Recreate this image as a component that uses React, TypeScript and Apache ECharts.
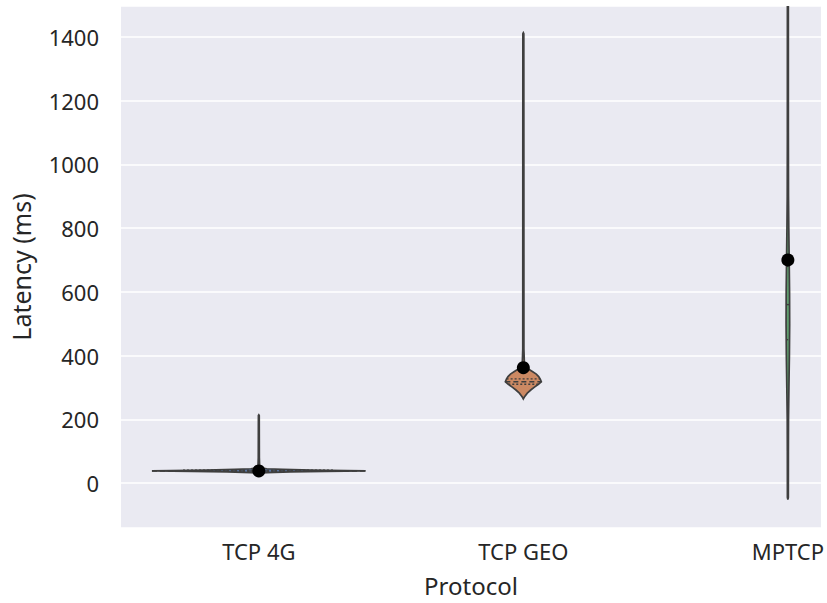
import React, { useEffect, useRef } from "react";
import * as echarts from "echarts";

const categories = ["TCP 4G", "TCP GEO", "MPTCP"];
const means = [38, 362, 700];
const fillColors = ["#5975A4", "#CC8963", "#5F9E6E"];

// violin profiles: [latency (ms), half width in category units]
const profile4G: [number, number][] = [
  [31, 0], [33, 0.03], [35, 0.12], [36.5, 0.25], [38, 0.404], [39.5, 0.33],
  [41, 0.2], [43, 0.09], [45, 0.03], [48, 0.008], [55, 0.003], [80, 0.002],
  [150, 0.0018], [212, 0.0016], [214, 0],
];
const profileGEO: [number, number][] = [
  [264, 0], [270, 0.004], [282, 0.015], [292, 0.028], [301, 0.042], [310, 0.057],
  [318, 0.068], [326, 0.064], [334, 0.058], [342, 0.049], [350, 0.034],
  [358, 0.019], [366, 0.008], [375, 0.004], [420, 0.0022], [1000, 0.002],
  [1410, 0.0018], [1413, 0],
];
const profileMPTCP: [number, number][] = [
  [-52, 0], [-45, 0.0018], [100, 0.002], [200, 0.0024], [300, 0.004],
  [400, 0.0058], [500, 0.0068], [600, 0.0064], [700, 0.005], [800, 0.0035],
  [900, 0.0024], [1100, 0.0019], [1650, 0.0018],
];
const profiles = [profile4G, profileGEO, profileMPTCP];
const quartiles = [
  [37, 38, 40],
  [310, 318, 327],
  [450, 560, 680],
];

const yTicks = [0, 200, 400, 600, 800, 1000, 1200, 1400];
const edgeColor = "#3f3f3f";
const textColor = "#262626";
const fontFamily = "'Noto Sans', 'Open Sans', sans-serif";

function widthAt(prof: [number, number][], v: number): number {
  for (let i = 0; i < prof.length - 1; i++) {
    const [a, wa] = prof[i];
    const [b, wb] = prof[i + 1];
    if (v >= a && v <= b) return wa + ((wb - wa) * (v - a)) / (b - a);
  }
  return 0;
}

export default function App() {
  const ref = useRef<HTMLDivElement>(null);
  useEffect(() => {
    document.body.style.margin = "0";
    const chart = echarts.init(ref.current!, null, { renderer: "svg" });
    chart.setOption({
      animation: false,
      backgroundColor: "#ffffff",
      grid: { left: 121, top: 6, width: 701, height: 522, backgroundColor: "#EAEAF2", show: true, borderWidth: 0 },
      xAxis: {
        type: "value",
        min: -0.521,
        max: 2.125,
        splitNumber: 3,
        name: "Protocol",
        nameLocation: "middle",
        nameGap: 45,
        nameTextStyle: { color: textColor, fontSize: 24, fontFamily },
        axisLine: { show: false },
        axisTick: { show: false },
        splitLine: { show: false },
        axisLabel: {
          color: textColor,
          fontSize: 22,
          fontFamily,
          margin: 12,
          showMinLabel: false,
          showMaxLabel: false,
          formatter: (v: number) => {
            const r = Math.round(v);
            return Math.abs(v - r) < 1e-6 && categories[r] ? categories[r] : "";
          },
        },
      },
      yAxis: {
        type: "value",
        min: -141,
        max: 1497,
        splitNumber: 8,
        name: "Latency (ms)",
        nameLocation: "middle",
        nameGap: 88,
        nameTextStyle: { color: textColor, fontSize: 25, fontFamily },
        axisLine: { show: false },
        axisTick: { show: false },
        splitLine: { show: true, lineStyle: { color: "#ffffff", width: 1.6 } },
        axisLabel: {
          color: textColor,
          fontSize: 22,
          fontFamily,
          margin: 22,
          showMinLabel: false,
          showMaxLabel: false,
          formatter: (v: number) => (yTicks.indexOf(v) >= 0 ? String(v) : ""),
        },
      },
      series: [
        {
          type: "custom",
          clip: true,
          data: categories.map((_, i) => [i, 0]),
          encode: { x: 0, y: 1 },
          renderItem: (params: any, api: any) => {
            const idx = api.value(0) as number;
            const prof = profiles[idx];
            const right = prof.map(([v, w]) => api.coord([idx + w, v]));
            const left = prof
              .slice()
              .reverse()
              .map(([v, w]) => api.coord([idx - w, v]));
            const children: any[] = [
              {
                type: "polygon",
                shape: { points: right.concat(left) },
                style: { fill: fillColors[idx], stroke: edgeColor, lineWidth: 1.7 },
              },
            ];
            quartiles[idx].forEach((q, k) => {
              const w = widthAt(prof, q);
              const p1 = api.coord([idx - w, q]);
              const p2 = api.coord([idx + w, q]);
              children.push({
                type: "line",
                shape: { x1: p1[0], y1: p1[1], x2: p2[0], y2: p2[1] },
                style: {
                  stroke: edgeColor,
                  lineWidth: 1.4,
                  lineDash: k === 1 ? [5, 3] : [2, 2],
                },
              });
            });
            return { type: "group", children };
          },
          z: 2,
        },
        {
          type: "scatter",
          data: means.map((m, i) => [i, m]),
          symbol: "circle",
          symbolSize: 13,
          itemStyle: { color: "#000000", opacity: 1 },
          z: 5,
        },
      ],
    });
    return () => chart.dispose();
  }, []);
  return (
    <div
      ref={ref}
      style={{ position: "fixed", left: 0, top: 0, width: 827, height: 603, background: "#fff" }}
    />
  );
}
